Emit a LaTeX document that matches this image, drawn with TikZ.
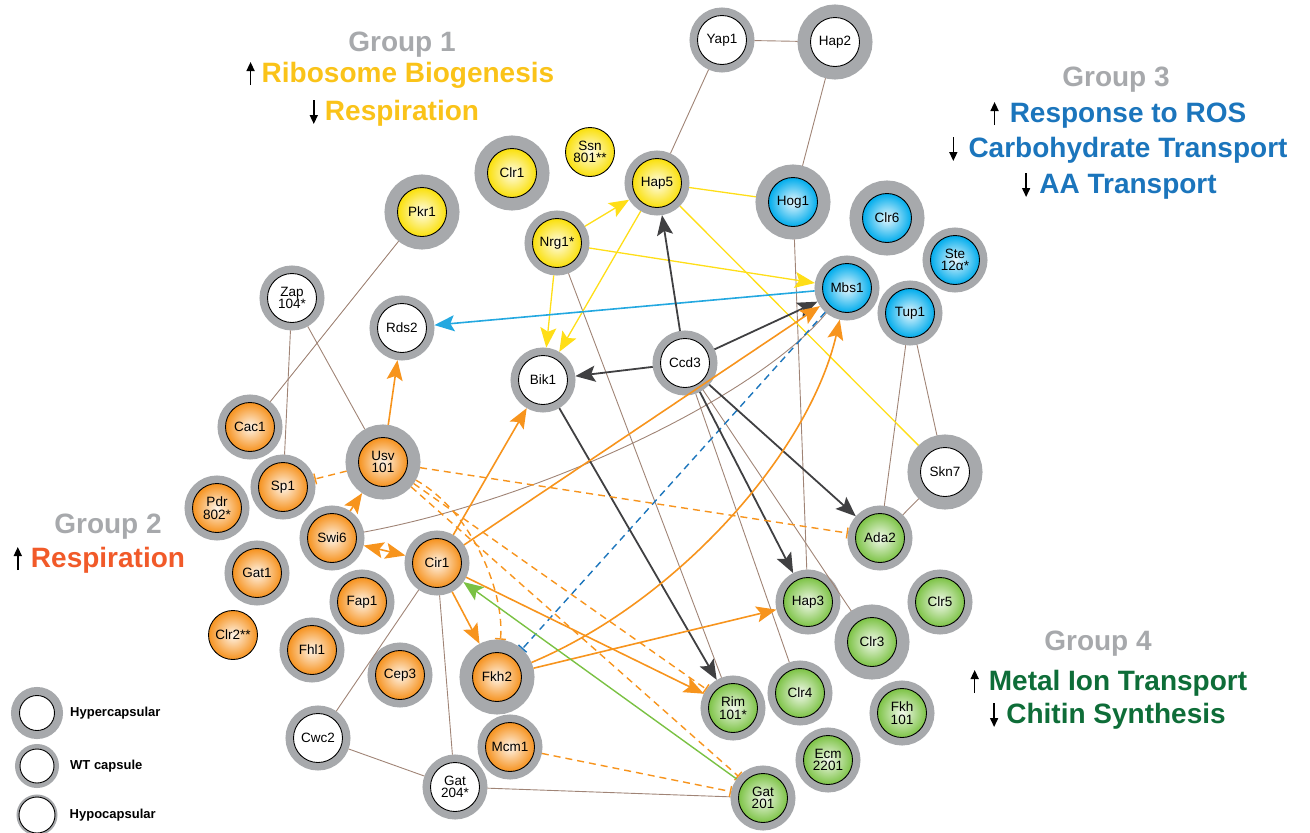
\documentclass[tikz,border=0pt]{standalone}
\usepackage{fontspec}
\setmainfont{Liberation Sans}
\usetikzlibrary{arrows.meta,positioning}

\definecolor{ringgray}{RGB}{167,169,172}
\definecolor{ballyellow}{RGB}{250,224,10}
\definecolor{ballorange}{RGB}{246,146,30}
\definecolor{ballblue}{RGB}{0,172,236}
\definecolor{ballgreen}{RGB}{125,195,70}
\definecolor{linkbrown}{RGB}{160,132,118}
\definecolor{linkyellow}{RGB}{255,222,23}
\definecolor{linkdark}{RGB}{64,64,66}
\definecolor{linkorange}{RGB}{247,148,29}
\definecolor{linkblue}{RGB}{35,168,224}
\definecolor{linkdblue}{RGB}{28,117,188}
\definecolor{linkgreen}{RGB}{122,193,67}
\definecolor{txtyellow}{RGB}{250,195,25}
\definecolor{txtblue}{RGB}{27,117,188}
\definecolor{txtred}{RGB}{241,90,41}
\definecolor{txtgreen}{RGB}{14,109,56}

\tikzset{
  gene/.style={circle, draw=black, line width=0.9pt, minimum size=49pt, inner sep=0pt,
    align=center, font=\fontsize{13.5}{12.5}\selectfont},
  hyper/.style={gene, outer sep=13pt, preaction={draw=ringgray, line width=26pt}},
  wt/.style={gene, outer sep=8pt, preaction={draw=ringgray, line width=16pt}},
  noring/.style={gene, outer sep=0.5pt},
  yel/.style={inner color=ballyellow!10!white, outer color=ballyellow},
  ora/.style={inner color=ballorange!10!white, outer color=ballorange},
  blu/.style={inner color=ballblue!10!white, outer color=ballblue},
  gre/.style={inner color=ballgreen!10!white, outer color=ballgreen},
  wht/.style={fill=white},
  headtip/.style={-{Stealth[length=20pt, width=16pt, inset=4pt]}},
  link/.style={linkbrown, line width=0.9pt},
  ylink/.style={linkyellow, line width=1.3pt},
  yarr/.style={ylink, headtip},
  darr/.style={linkdark, line width=1.8pt, headtip},
  oarr/.style={linkorange, line width=1.6pt, headtip},
  oblock/.style={linkorange, line width=1.4pt, dash pattern=on 7pt off 5pt, -{Bar[width=11pt, line width=1.4pt]}},
  grouptitle/.style={inner sep=0pt, anchor=base, text=ringgray, font=\fontsize{28}{28}\selectfont\bfseries},
  groupline/.style={inner sep=0pt, anchor=base, font=\fontsize{28}{28}\selectfont\bfseries},
  trend/.style={black, line width=1.5pt, -{Triangle[length=9pt, width=8pt]}},
  legendtext/.style={inner sep=0pt, font=\fontsize{13}{13}\selectfont\bfseries},
}

\begin{document}
\begin{tikzpicture}[x=1pt, y=-1pt]
    \useasboundingbox (0,0) rectangle (1310,833);

    \node[hyper, yel] (pkr1) at (422,212) {Pkr1};
    \node[hyper, yel] (clr1) at (512,173) {Clr1};
    \node[noring, yel] (ssn801) at (590,152) {Ssn\\801**};
    \node[wt, yel] (hap5) at (657,183) {Hap5};
    \node[wt, yel] (nrg1) at (557,243) {Nrg1*};

    \node[wt, wht] (yap1) at (722,40) {Yap1};
    \node[hyper, wht] (hap2) at (835,42) {Hap2};
    \node[wt, wht] (zap104) at (292,298) {Zap\\104*};
    \node[wt, wht] (rds2) at (402,328) {Rds2};
    \node[wt, wht] (bik1) at (543,380) {Bik1};
    \node[wt, wht] (ccd3) at (685,363) {Ccd3};
    \node[hyper, wht] (skn7) at (945,472) {Skn7};
    \node[wt, wht] (cwc2) at (318,738) {Cwc2};
    \node[wt, wht] (gat204) at (455,787) {Gat\\204*};

    \node[hyper, blu] (hog1) at (793,202) {Hog1};
    \node[hyper, blu] (clr6) at (887,218) {Clr6};
    \node[wt, blu] (ste12) at (955,260) {Ste\\12α*};
    \node[wt, blu] (mbs1) at (847,288) {Mbs1};
    \node[wt, blu] (tup1) at (910,313) {Tup1};

    \node[wt, ora] (cac1) at (250,427) {Cac1};
    \node[hyper, ora] (usv101) at (383,462) {Usv\\101};
    \node[wt, ora] (sp1) at (283,487) {Sp1};
    \node[wt, ora] (pdr802) at (217,508) {Pdr\\802*};
    \node[wt, ora] (swi6) at (332,538) {Swi6};
    \node[wt, ora] (cir1) at (437,563) {Cir1};
    \node[wt, ora] (gat1) at (257,573) {Gat1};
    \node[wt, ora] (fap1) at (362,602) {Fap1};
    \node[noring, ora] (clr2) at (233,635) {Clr2**};
    \node[wt, ora] (fhl1) at (312,650) {Fhl1};
    \node[wt, ora] (cep3) at (400,675) {Cep3};
    \node[hyper, ora] (fkh2) at (497,677) {Fkh2};
    \node[wt, ora] (mcm1) at (510,747) {Mcm1};

    \node[wt, gre] (ada2) at (880,538) {Ada2};
    \node[wt, gre] (hap3) at (808,602) {Hap3};
    \node[wt, gre] (clr5) at (940,602) {Clr5};
    \node[hyper, gre] (clr3) at (872,642) {Clr3};
    \node[wt, gre] (clr4) at (800,693) {Clr4};
    \node[wt, gre] (rim101) at (733,708) {Rim\\101*};
    \node[wt, gre] (fkh101) at (902,713) {Fkh\\101};
    \node[wt, gre] (ecm2201) at (828,760) {Ecm\\2201};
    \node[wt, gre] (gat201) at (763,798) {Gat\\201};

    \draw[link] (yap1) -- (hap2);
    \draw[link] (yap1) -- (hap5);
    \draw[link] (hap2) -- (hog1);
    \draw[link] (pkr1) -- (cac1);
    \draw[link] (zap104) -- (sp1);
    \draw[link] (zap104) -- (usv101);
    \draw[link] (nrg1) -- (rim101);
    \draw[link] (hog1) -- (hap3);
    \draw[link] (tup1) -- (ada2);
    \draw[link] (tup1) -- (skn7);
    \draw[link] (skn7) -- (ada2);
    \draw[link] (swi6) .. controls (542,499) and (757,397) .. (mbs1);
    \draw[link] (ccd3) -- (clr3);
    \draw[link] (ccd3) -- (clr4);
    \draw[link] (cir1) -- (cwc2);
    \draw[link] (cir1) -- (gat204);
    \draw[link] (cwc2) -- (gat204);
    \draw[link] (gat204) -- (gat201);

    \draw[yarr] (nrg1) -- (hap5);
    \draw[yarr] (nrg1) -- (bik1);
    \draw[yarr] (hap5) -- (bik1);
    \draw[yarr] (nrg1) -- (mbs1);
    \draw[ylink] (hap5) -- (hog1);
    \draw[ylink] (hap5) -- (skn7);

    \draw[linkblue, line width=1.6pt, headtip] (mbs1) -- (rds2);
    \draw[linkdblue, line width=1.4pt, dash pattern=on 7pt off 5pt, -{Bar[width=11pt, line width=1.4pt]}] (mbs1) -- (fkh2);

    \draw[darr] (ccd3) -- (hap5);
    \draw[darr] (ccd3) -- (bik1);
    \draw[darr] (ccd3) -- (mbs1);
    \draw[darr] (ccd3) -- (ada2);
    \draw[darr] (ccd3) -- (hap3);
    \draw[darr] (bik1) -- (rim101);

    \draw[oarr] (usv101) -- (rds2);
    \draw[oarr] (swi6) -- (usv101);
    \draw[oarr, {Stealth[length=20pt, width=16pt, inset=4pt]}-{Stealth[length=20pt, width=16pt, inset=4pt]}] (swi6) -- (cir1);
    \draw[oarr] (cir1) -- (bik1);
    \draw[oarr] (cir1) -- (mbs1);
    \draw[oarr] (cir1) -- (fkh2);
    \draw[oarr] (cir1) -- (rim101);
    \draw[oarr] (fkh2) .. controls (680,600) and (810,450) .. (mbs1);
    \draw[oarr] (fkh2) -- (hap3);

    \draw[oblock] (usv101) -- (sp1);
    \draw[oblock] (usv101) -- (ada2);
    \draw[oblock] (usv101) .. controls (470,510) and (505,590) .. (fkh2);
    \draw[oblock] (usv101) -- (rim101);
    \draw[oblock] (usv101) -- (gat201);
    \draw[oblock] (mcm1) -- (gat201);

    \draw[linkgreen, line width=1.4pt, headtip] (gat201) -- (cir1);

    \node[grouptitle] (g1) at (402,51) {Group 1};
    \node[groupline, text=txtyellow] (g1up) at (408,82) {Ribosome Biogenesis};
    \node[groupline, text=txtyellow] (g1down) at (402,120) {Respiration};
    \draw[trend] ([xshift=-11pt, yshift=-3pt]g1up.base west) -- ++(0,-23);
    \draw[trend] ([xshift=-11pt, yshift=20pt]g1down.base west) -- ++(0,24);

    \node[grouptitle] (g2) at (108,533) {Group 2};
    \node[groupline, text=txtred] (g2up) at (108,567) {Respiration};
    \draw[trend] ([xshift=-13pt, yshift=-3pt]g2up.base west) -- ++(0,-23);

    \node[grouptitle] (g3) at (1116,86) {Group 3};
    \node[groupline, text=txtblue] (g3up) at (1128,122) {Response to ROS};
    \node[groupline, text=txtblue] (g3down1) at (1128,157) {Carbohydrate Transport};
    \node[groupline, text=txtblue] (g3down2) at (1128,193) {AA Transport};
    \draw[trend] ([xshift=-15pt, yshift=-3pt]g3up.base west) -- ++(0,-23);
    \draw[trend] ([xshift=-15pt, yshift=20pt]g3down1.base west) -- ++(0,24);
    \draw[trend] ([xshift=-13pt, yshift=20pt]g3down2.base west) -- ++(0,24);

    \node[grouptitle] (g4) at (1098,650) {Group 4};
    \node[groupline, text=txtgreen] (g4up) at (1118,690) {Metal Ion Transport};
    \node[groupline, text=txtgreen] (g4down) at (1116,723) {Chitin Synthesis};
    \draw[trend] ([xshift=-14pt, yshift=-3pt]g4up.base west) -- ++(0,-23);
    \draw[trend] ([xshift=-12pt, yshift=20pt]g4down.base west) -- ++(0,24);

    \node[circle, draw=black, line width=0.9pt, fill=white, minimum size=35pt, outer sep=8.5pt,
      preaction={draw=ringgray, line width=17pt}] (lhyper) at (37,713) {};
    \node[circle, draw=black, line width=0.9pt, fill=white, minimum size=34pt, outer sep=5pt,
      preaction={draw=ringgray, line width=10pt}] (lwt) at (37,766) {};
    \node[circle, draw=black, line width=0.9pt, fill=white, minimum size=36pt, outer sep=2.5pt,
      preaction={draw=ringgray, line width=5pt}] (lhypo) at (37,815) {};
    \node[legendtext] (thyper) [right=7pt of lhyper] {Hypercapsular};
    \node[legendtext] (twt) [right=11pt of lwt] {WT capsule};
    \node[legendtext] (thypo) [right=12pt of lhypo] {Hypocapsular};
\end{tikzpicture}
\end{document}
